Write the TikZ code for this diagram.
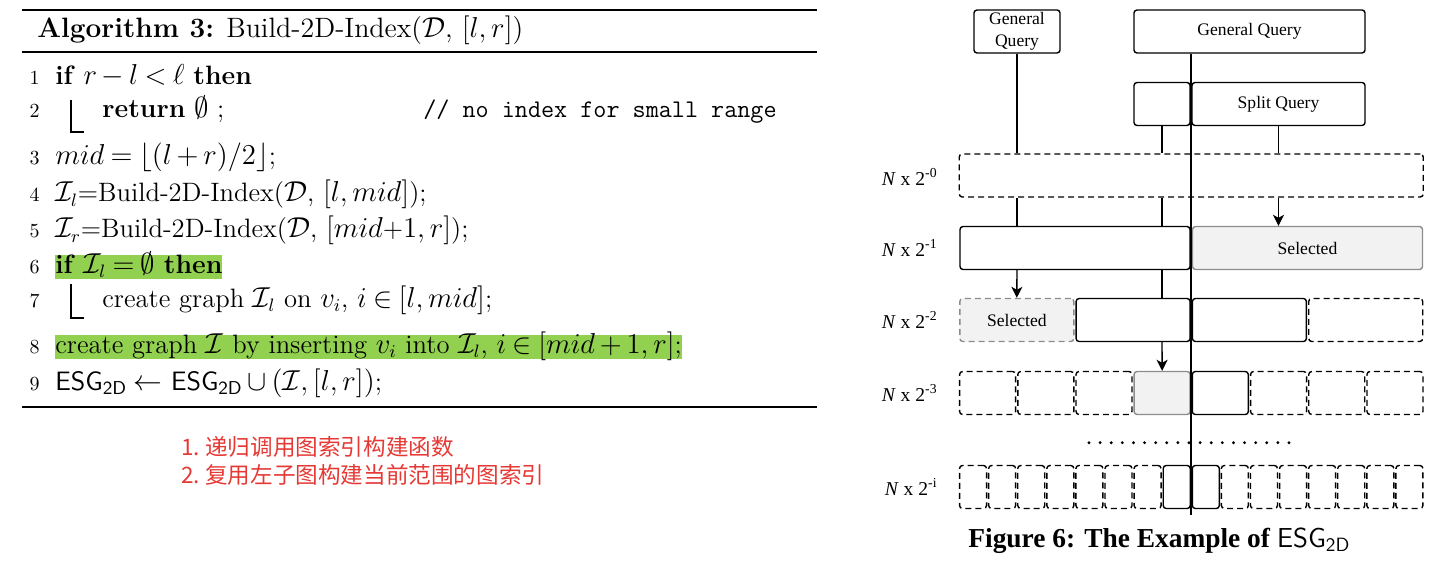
\documentclass[tikz,border=0pt]{standalone}
\usepackage{amsmath,amssymb}
\usepackage{fontspec}
\newfontfamily\tms{Liberation Serif}
\newfontfamily\cjk{Noto Sans CJK SC}
\usetikzlibrary{arrows.meta}
\definecolor{hlgreen}{HTML}{92D050}
\definecolor{cnred}{HTML}{E53935}
\newcommand\tightmath{\thickmuskip=4mu plus 2mu\relax\medmuskip=3mu plus 1mu\relax}
\tikzset{
  alg/.style={inner sep=0pt, font=\fontsize{13.3}{16}\selectfont\tightmath},
  ttl/.style={inner sep=0pt, font=\fontsize{14}{16}\selectfont},
  lno/.style={inner sep=0pt, anchor=base east, font=\fontsize{10}{12}\selectfont},
  hl/.style={alg, fill=hlgreen, text height=9pt, text depth=3pt},
  cn/.style={inner sep=0pt, anchor=west, text=cnred, font=\cjk\fontsize{11.3}{13}\selectfont},
  bw/.style={minimum width=#1*0.5pt},
  bx/.style={draw=black, line width=0.7pt, rounded corners=1.5pt, minimum height=21.5pt, inner sep=0pt, font=\tms\fontsize{8.8}{11}\selectfont},
  dbx/.style={bx, dash pattern=on 3pt off 2pt},
  sel/.style={bx, draw=black!45, fill=black!5},
  lab/.style={inner sep=0pt, anchor=east, font=\tms\fontsize{9.8}{11}\selectfont},
  conn/.style={line width=0.7pt},
  arr/.style={line width=0.7pt, -{Stealth[length=5.5pt,width=5.5pt,inset=1.5pt]}},
}
\begin{document}
\begin{tikzpicture}[x=0.5pt,y=-0.5pt]
\useasboundingbox (0,0) rectangle (1450,577);
% ---------------- algorithm ----------------
\draw[line width=1pt] (22,10) -- (817,10);
\draw[line width=0.6pt] (22,52) -- (817,52);
\draw[line width=1pt] (22,407) -- (817,407);
\node[ttl, anchor=base west] (title) at (37,38) {\textbf{Algorithm 3:} Build-2D-Index($\mathcal{D}$, $[l,r]$)};
\node[lno] (n1) at (40,85) {1};
\node[alg, anchor=base west] (a1) at (55,85) {\textbf{if} $r-l<\ell$ \textbf{then}};
\node[lno] (n2) at (40,118) {2};
\node[alg, anchor=base west] (a2) at (102,118) {\textbf{return} $\emptyset$ ;};
\node[alg, anchor=base west, font=\ttfamily\fontsize{12.7}{14}\selectfont] (c2) at (423,118) {// no index for small range};
\node[lno] (n3) at (40,165) {3};
\node[alg, anchor=base west] (a3) at (55,165) {$mid=\lfloor(l+r)/2\rfloor$;};
\node[lno] (n4) at (40,202) {4};
\node[alg, anchor=base west] (a4) at (55,202) {$\mathcal{I}_l$=Build-2D-Index($\mathcal{D}$, $[l,mid]$);};
\node[lno] (n5) at (40,238) {5};
\node[alg, anchor=base west] (a5) at (55,238) {$\mathcal{I}_r$=Build-2D-Index($\mathcal{D}$, $[mid$+$1,r]$);};
\node[lno] (n6) at (40,273) {6};
\node[hl, anchor=base west] (a6) at (55,273) {\textbf{if} $\mathcal{I}_l=\emptyset$ \textbf{then}};
\node[lno] (n7) at (40,307) {7};
\node[alg, anchor=base west] (a7) at (102,307) {create graph $\mathcal{I}_l$ on $v_i$, $i\in[l,mid]$;};
\node[lno] (n8) at (40,353) {8};
\node[hl, anchor=base west] (a8) at (55,353) {create graph $\mathcal{I}$ by inserting $v_i$ into $\mathcal{I}_l$, $i\in[mid+1,r]$;};
\node[lno] (n9) at (40,390) {9};
\node[alg, anchor=base west] (a9) at (55,390) {\textsf{ESG}$_{\textsf{2D}}\leftarrow$ \textsf{ESG}$_{\textsf{2D}}\cup(\mathcal{I},[l,r])$;};
\draw[line width=0.6pt] (71,100) -- (71,132) -- (84,132);
\draw[line width=0.6pt] (71,284) -- (71,318) -- (84,318);
\node[cn] (cn1) at (181,447) {1.\ 递归调用图索引构建函数};
\node[cn] (cn2) at (181,475) {2.\ 复用左子图构建当前范围的图索引};
% ---------------- diagram ----------------
\node[bx, bw=86, align=center, font=\tms\fontsize{8.8}{11}\selectfont] (gq1) at (1017,31.5) {General\\Query};
\node[bx, bw=231] (gq2) at (1249.5,31.5) {General Query};
\node[bx, bw=56] (sp1) at (1162,104) {};
\node[bx, bw=173] (sp2) at (1278.5,104) {Split Query};
% row 0
\node[dbx, bw=464] (r0) at (1191.25,175.5) {};
% row 1
\node[bx, bw=230] (r1a) at (1075,248) {};
\node[sel, bw=230] (r1b) at (1307.5,248) {Selected};
% row 2
\node[sel, dash pattern=on 3pt off 2pt, bw=114] (r2-1) at (1016.8,320) {Selected};
\node[bx, bw=114] (r2-2) at (1133.1,320) {};
\node[bx, bw=114] (r2-3) at (1249.4,320) {};
\node[dbx, bw=114] (r2-4) at (1365.7,320) {};
% row 3
\foreach \k in {1,2,3,6,7,8}{
  \node[dbx, bw=56] (r3-\k) at ({958.5+29.1+58.19*(\k-1)},393) {};
}
\node[sel, bw=56] (r3-4) at (1162.1,393) {};
\node[bx, bw=56] (r3-5) at (1220.3,393) {};
% row i
\foreach \k in {1,...,7,10,11,12,13,14,15,16}{
  \node[dbx, bw=27] (ri-\k) at ({958.5+14.55+29.09*(\k-1)},487) {};
}
\node[bx, bw=27] (ri-8) at (1176.7,487) {};
\node[bx, bw=27] (ri-9) at (1205.8,487) {};
% dots
\foreach \k in {0,...,18}{
  \fill ({1089+\k*11.11},442.7) circle (0.8pt);
}
% labels
\node[lab] (l0) at (938,177) {\textit{N} x 2\textsuperscript{-0}};
\node[lab] (l1) at (938,248) {\textit{N} x 2\textsuperscript{-1}};
\node[lab] (l2) at (938,320) {\textit{N} x 2\textsuperscript{-2}};
\node[lab] (l3) at (938,393) {\textit{N} x 2\textsuperscript{-3}};
\node[lab] (li) at (938,487) {\textit{N} x 2\textsuperscript{-i}};
% connectors
\draw[conn] (gq1.south) -- (gq1.south |- r0.north);
\draw[conn] (sp1.south) -- (sp1.south |- r0.north);
\draw[conn] (sp2.south) -- (sp2.south |- r0.north);
\draw[conn] (r0.south -| gq1) -- (r1a.north -| gq1);
\draw[conn] (r0.south -| sp1) -- (r1a.north -| sp1);
\draw[arr] (r0.south -| sp2) -- (r1b.north -| sp2);
\draw[arr] (r1a.south -| gq1) -- (r2-1.north);
\draw[conn] (r1a.south -| sp1) -- (r2-2.north -| sp1);
\draw[arr] (r2-2.south -| sp1) -- (r3-4.north);
\coordinate (cbot) at (1191.25,515);
\draw[line width=0.9pt] (gq2.south -| cbot) -- (cbot);
% caption
\node[inner sep=0pt, anchor=base west, font=\tms\fontsize{13.7}{16}\selectfont] (cap) at (968,547) {\textbf{Figure 6: The Example of} \textsf{ESG}$_{\textsf{2D}}$};
\end{tikzpicture}
\end{document}
